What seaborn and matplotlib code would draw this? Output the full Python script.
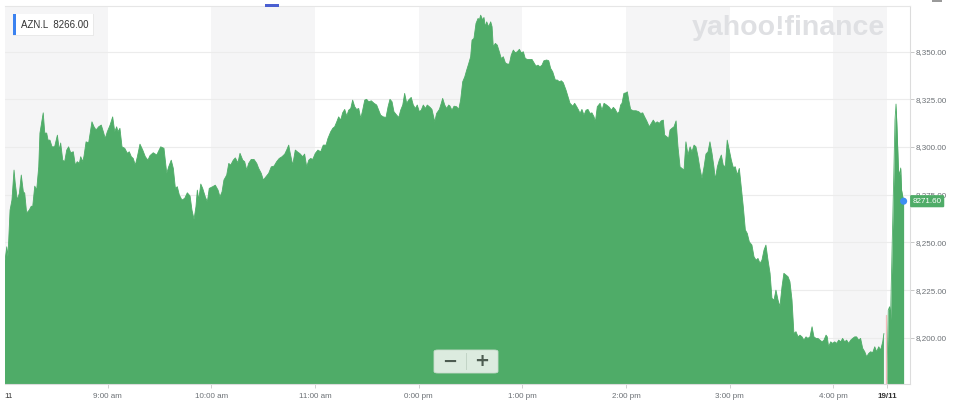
import matplotlib
matplotlib.use("Agg")
import numpy as np
import pandas as pd
import matplotlib.pyplot as plt
import matplotlib.transforms as mtransforms
from matplotlib.patches import Rectangle, FancyBboxPatch
import seaborn as sns

# ---------------- data (minutes after 08:00, price in GBp) ----------------
minutes_day1 = [
    0.4, 1.6, 2.3, 3.5, 4.6, 5.8, 6.5, 7.7, 8.9, 10.0, 11.2, 12.0, 13.1, 14.6, 15.8, 16.6,
    17.8, 18.9, 20.1, 20.8, 22.0, 22.7, 23.6, 24.7, 25.5, 26.6, 27.8, 29.3, 30.9, 32.0, 32.8,
    34.0, 35.1, 36.3, 37.4, 38.6, 40.1, 41.3, 42.4, 43.6, 44.4, 45.6, 46.3, 47.5, 49.0, 50.9,
    52.1, 53.3, 54.8, 56.3, 57.5, 58.6, 59.8, 61.4, 62.9, 64.1, 65.2, 66.0, 67.1, 68.3, 69.9,
    71.4, 72.5, 73.7, 74.8, 76.0, 77.2, 78.7, 80.3, 81.8, 83.3, 84.5, 86.4, 88.4, 90.7, 92.6,
    94.2, 95.3, 96.8, 98.0, 99.2, 100.3, 101.5, 103.0, 104.6, 106.1, 107.7, 108.8, 110.0,
    111.1, 111.9, 112.7, 113.9, 115.0, 116.5, 117.7, 118.8, 120.8, 122.3, 123.9, 125.0,
    126.2, 127.3, 128.9, 130.1, 131.2, 132.7, 133.9, 135.4, 136.6, 138.2, 139.3, 140.5,
    141.6, 143.1, 144.7, 146.3, 147.4, 148.9, 150.1, 151.6, 153.2, 154.7, 156.3, 157.8,
    159.3, 160.9, 162.5, 163.6, 164.8, 165.5, 167.1, 168.6, 169.8, 171.3, 172.9, 174.0,
    175.2, 176.4, 177.5, 178.7, 180.2, 181.7, 183.3, 184.8, 186.4, 187.5, 189.1, 190.3,
    191.4, 192.6, 193.7, 194.9, 196.0, 197.2, 198.4, 199.5, 200.7, 201.8, 203.0, 204.1,
    205.3, 206.5, 207.6, 208.8, 209.9, 211.1, 212.6, 214.2, 215.7, 216.9, 218.0, 219.5,
    221.1, 222.3, 223.4, 224.6, 225.7, 227.3, 228.5, 229.6, 230.8, 231.9, 233.1, 234.2,
    235.7, 236.9, 238.1, 239.2, 240.4, 241.5, 242.7, 243.9, 245.0, 246.6, 247.7, 249.3,
    250.4, 252.0, 253.1, 253.9, 255.1, 256.2, 257.4, 258.1, 259.3, 260.5, 262.0, 263.2,
    264.3, 265.5, 266.7, 267.8, 269.0, 270.1, 270.9, 272.0, 273.2, 274.4, 275.1, 275.9,
    277.1, 277.8, 278.6, 279.4, 280.5, 281.7, 282.5, 283.2, 284.4, 285.5, 286.7, 287.8,
    289.0, 290.2, 291.3, 292.5, 293.6, 294.8, 295.9, 297.1, 298.3, 299.4, 300.6, 301.7,
    302.9, 304.4, 305.6, 306.8, 307.9, 309.1, 310.2, 311.4, 312.5, 314.1, 315.3, 316.4,
    317.6, 319.1, 320.3, 321.4, 322.6, 323.7, 325.3, 326.5, 327.6, 329.2, 330.3, 331.5,
    332.6, 333.4, 334.5, 335.7, 336.9, 338.0, 339.2, 340.3, 341.5, 342.3, 343.4, 345.0,
    346.1, 347.3, 348.8, 350.4, 351.5, 352.7, 353.8, 355.0, 356.1, 356.9, 357.7, 358.8,
    360.0, 360.8, 361.6, 362.7, 364.2, 365.8, 367.4, 368.5, 369.7, 370.8, 372.0, 373.5,
    374.7, 375.8, 377.0, 378.1, 379.3, 380.4, 381.6, 382.4, 383.6, 384.7, 385.5, 386.6,
    387.8, 389.0, 390.1, 391.3, 392.4, 393.6, 394.7, 395.9, 397.1, 398.2, 399.4, 400.5,
    401.7, 402.8, 404.0, 405.2, 406.3, 407.5, 408.6, 409.8, 410.9, 411.7, 412.9, 414.0,
    415.2, 416.3, 417.5, 418.6, 419.8, 421.0, 422.1, 423.3, 424.4, 425.6, 426.7, 427.9,
    429.1, 430.2, 431.4, 432.9, 434.1, 435.3, 436.4, 437.6, 438.7, 439.9, 441.0, 442.2,
    443.4, 444.5, 445.7, 446.8, 448.0, 449.1, 450.3, 451.4, 452.6, 453.8, 454.9, 456.1,
    457.2, 458.4, 459.6, 460.7, 461.9, 463.0, 464.2, 465.3, 466.5, 467.7, 468.8, 470.0,
    471.1, 472.3, 473.5, 474.6, 475.8, 476.5, 477.3, 478.5, 479.6, 480.8, 482.0, 483.1,
    484.3, 485.4, 486.6, 487.7, 488.9, 490.1, 491.2, 492.4, 493.5, 494.7, 495.8, 497.0,
    498.2, 499.3, 500.5, 501.6, 502.8, 504.0, 505.1, 506.3, 507.4, 508.6, 509.3,
]
price_day1 = [
    8239.2, 8247.7, 8242.5, 8266.9, 8272.2, 8287.9, 8281.1, 8272.2, 8275.8, 8285.3, 8276.5,
    8275.8, 8265.4, 8266.9, 8269.0, 8268.7, 8279.5, 8277.4, 8289.6, 8307.3, 8314.1, 8317.9,
    8307.3, 8307.3, 8303.6, 8303.6, 8300.1, 8300.1, 8306.2, 8298.4, 8302.1, 8293.1, 8292.3,
    8298.4, 8300.1, 8297.0, 8297.5, 8290.5, 8292.3, 8291.4, 8294.9, 8292.3, 8295.2, 8302.7,
    8302.2, 8313.2, 8310.6, 8308.9, 8310.6, 8311.5, 8308.0, 8304.5, 8308.0, 8311.5, 8315.8,
    8308.0, 8310.6, 8308.0, 8309.8, 8300.1, 8299.3, 8296.7, 8297.5, 8294.9, 8294.0, 8290.5,
    8294.9, 8301.5, 8298.4, 8294.9, 8293.1, 8295.5, 8297.0, 8295.8, 8300.1, 8299.3, 8286.2,
    8289.6, 8293.1, 8288.8, 8278.3, 8279.2, 8274.8, 8272.2, 8273.1, 8276.0, 8274.3, 8266.9,
    8262.1, 8268.7, 8277.4, 8272.2, 8280.6, 8278.3, 8273.9, 8271.3, 8278.3, 8279.2, 8280.0,
    8277.4, 8273.9, 8276.5, 8282.7, 8285.3, 8291.4, 8290.5, 8293.1, 8294.3, 8291.7, 8296.7,
    8293.1, 8292.3, 8287.9, 8291.4, 8293.5, 8293.5, 8291.4, 8288.8, 8286.2, 8282.7, 8284.4,
    8286.2, 8289.6, 8290.0, 8292.3, 8294.0, 8294.9, 8296.3, 8298.4, 8301.0, 8297.5, 8290.5,
    8298.4, 8297.5, 8296.5, 8294.9, 8296.3, 8289.6, 8293.1, 8294.0, 8293.5, 8296.7, 8298.4,
    8297.5, 8301.0, 8301.0, 8304.5, 8308.0, 8309.8, 8310.6, 8313.2, 8315.8, 8314.1, 8317.9,
    8319.7, 8316.2, 8319.3, 8320.2, 8324.6, 8321.1, 8319.7, 8320.2, 8315.0, 8319.3, 8324.6,
    8325.0, 8323.7, 8324.2, 8322.9, 8322.0, 8319.3, 8316.7, 8315.8, 8315.5, 8321.1, 8325.0,
    8323.7, 8318.5, 8316.7, 8315.5, 8319.3, 8322.0, 8328.1, 8322.9, 8324.6, 8326.0, 8322.0,
    8320.2, 8322.0, 8318.5, 8319.3, 8322.0, 8320.2, 8322.0, 8320.8, 8319.7, 8313.2, 8317.6,
    8319.7, 8322.9, 8325.5, 8322.0, 8320.2, 8322.0, 8321.5, 8319.3, 8321.4, 8321.1, 8319.7,
    8324.6, 8334.2, 8336.8, 8340.3, 8343.8, 8347.3, 8356.0, 8356.9, 8364.8, 8367.4, 8366.5,
    8369.1, 8366.5, 8367.9, 8363.0, 8365.6, 8363.0, 8365.6, 8363.0, 8352.5, 8354.3, 8353.4,
    8349.9, 8346.4, 8347.3, 8344.1, 8343.5, 8343.5, 8348.2, 8350.8, 8349.4, 8349.9, 8351.2,
    8349.4, 8349.9, 8346.4, 8345.9, 8345.9, 8345.9, 8344.1, 8342.4, 8342.9, 8342.0, 8342.9,
    8345.2, 8345.6, 8345.2, 8341.2, 8339.4, 8335.1, 8335.1, 8334.2, 8334.7, 8333.7, 8329.8,
    8326.3, 8322.9, 8321.4, 8322.9, 8321.1, 8319.3, 8317.6, 8319.7, 8316.7, 8319.3, 8319.7,
    8317.6, 8317.9, 8315.8, 8313.2, 8321.1, 8322.9, 8319.3, 8322.9, 8322.0, 8320.8, 8319.3,
    8320.8, 8319.7, 8317.6, 8318.5, 8322.0, 8322.9, 8328.1, 8328.4, 8328.9, 8324.6, 8319.7,
    8319.0, 8319.0, 8318.5, 8317.6, 8317.9, 8315.8, 8313.7, 8310.6, 8312.4, 8314.1, 8312.4,
    8313.2, 8312.4, 8313.7, 8314.1, 8306.2, 8305.4, 8304.5, 8308.9, 8309.8, 8310.6, 8313.7,
    8300.1, 8289.6, 8288.8, 8287.9, 8302.7, 8295.8, 8300.1, 8297.5, 8301.0, 8300.1, 8294.9,
    8288.8, 8283.6, 8289.6, 8296.3, 8297.5, 8302.7, 8296.7, 8289.6, 8283.0, 8289.6, 8293.1,
    8295.8, 8290.5, 8289.6, 8303.6, 8298.4, 8293.1, 8289.3, 8289.6, 8285.3, 8288.8, 8279.2,
    8268.7, 8256.5, 8254.7, 8250.3, 8248.6, 8242.5, 8240.7, 8241.6, 8239.0, 8240.7, 8246.0,
    8248.6, 8240.7, 8233.8, 8220.7, 8219.8, 8225.0, 8219.8, 8216.3, 8226.7, 8233.8, 8232.9,
    8232.0, 8229.4, 8219.8, 8202.3, 8203.2, 8200.5, 8201.4, 8200.5, 8198.8, 8200.5, 8199.7,
    8200.5, 8205.8, 8200.5, 8199.7, 8199.7, 8198.8, 8197.9, 8198.8, 8201.4, 8200.5, 8195.3,
    8197.9, 8197.1, 8197.9, 8197.1, 8198.8, 8197.9, 8199.7, 8197.9, 8198.8, 8197.1, 8198.8,
    8199.7, 8200.5, 8200.5, 8198.8, 8199.7, 8194.5, 8192.7, 8190.1, 8191.8, 8192.7, 8192.2,
    8195.3, 8192.7, 8195.3, 8193.6, 8197.9, 8202.3,
]
minutes_day2 = [511.0, 511.8, 512.6, 513.1, 514.0, 515.2, 515.7, 516.3, 516.9, 517.7,
                518.3, 519.0, 519.5, 520.7]
price_day2 = [8178.0, 8214.5, 8216.3, 8209.3, 8246.0, 8293.1, 8314.1, 8322.5, 8308.9,
              8287.9, 8285.3, 8289.0, 8277.4, 8271.6]

symbol = "AZN.L"
legend_price = 8266.00
last_price = 8271.60

x_ticks = [0.4, 60, 120, 180, 240, 300, 360, 420, 480, 511.3]
x_labels = ["11", "9:00 am", "10:00 am", "11:00 am", "0:00 pm", "1:00 pm",
            "2:00 pm", "3:00 pm", "4:00 pm", "19/11"]
y_ticks = [8200, 8225, 8250, 8275, 8300, 8325, 8350]
hour_bands = [(0.4, 60), (120, 180), (240, 300), (360, 420), (480, 511.3)]
x_range = (0.4, 524.1)
y_range = (8175.8, 8373.9)
gap_minute = 510.3
gap_top = 8212.0

# ---------------- styling ----------------
GREEN = "#4fac68"
BAND = "#f5f5f6"
GRID = "#ececec"
SPINE = "#dcdcdc"
LABEL = "#6b7075"

sns.set_theme(style="white")
plt.rcParams["font.family"] = ["Liberation Sans", "DejaVu Sans"]

fig = plt.figure(figsize=(9.6, 4.18), dpi=100)
fig.patch.set_facecolor("white")
W, H = 960.0, 418.0
ax = fig.add_axes([4.7 / W, 34 / H, (909.5 - 4.7) / W, (384 - 6) / H])
ax.set_facecolor("white")

df = pd.DataFrame({
    "minute": minutes_day1 + minutes_day2,
    "price": price_day1 + price_day2,
    "session": ["d1"] * len(minutes_day1) + ["d2"] * len(minutes_day2),
})

for a, b in hour_bands:
    ax.axvspan(a, b, color=BAND, lw=0, zorder=0)
for t in y_ticks:
    ax.axhline(t, color=GRID, lw=0.8, zorder=0.5)

for _, g in df.groupby("session"):
    ax.fill_between(g["minute"], g["price"], y_range[0] - 50, color=GREEN, lw=0, zorder=2)
sns.lineplot(data=df, x="minute", y="price", units="session", estimator=None,
             color=GREEN, lw=0.6, ax=ax, zorder=2.1, legend=False)

ax.plot([gap_minute, gap_minute], [y_range[0], gap_top], color="#f2b9b9", lw=0.9, zorder=2.2)

ax.scatter([df["minute"].iloc[-1]], [df["price"].iloc[-1]], s=26, color="#3d8ef2",
           zorder=6, clip_on=False, edgecolor="none")

ax.set_xlim(*x_range)
ax.set_ylim(*y_range)
ax.set_xlabel("")
ax.set_ylabel("")

ax.yaxis.tick_right()
ax.set_yticks(y_ticks)
ax.set_yticklabels([f"{v:,.2f}" for v in y_ticks])
ax.set_xticks(x_ticks)
ax.set_xticklabels(x_labels)
ax.tick_params(axis="y", which="both", right=True, left=False, length=3, width=0.7,
               color="#c8c8c8", labelsize=5.8, labelcolor=LABEL, pad=1.5)
ax.tick_params(axis="x", which="both", bottom=True, length=3, width=0.7,
               color="#d0d0d0", labelsize=5.8, labelcolor=LABEL, pad=3.5)
xl = ax.get_xticklabels()
xl[0].set_ha("left")
xl[0].set_color("#3a3a3a")
xl[-1].set_fontweight("bold")
xl[-1].set_color("#333333")
ax.xaxis.get_major_ticks()[0].tick1line.set_visible(False)

for side in ["left"]:
    ax.spines[side].set_visible(False)
ax.spines["top"].set_color("#e6e6e6")
ax.spines["top"].set_linewidth(0.8)
ax.spines["right"].set_color(SPINE)
ax.spines["right"].set_linewidth(0.8)
ax.spines["bottom"].set_color(SPINE)
ax.spines["bottom"].set_linewidth(0.8)
ax.grid(False)

# last price tag on the right axis
blend = mtransforms.blended_transform_factory(ax.transAxes, ax.transData)
ax.text(1.0035, last_price, f"{last_price:.2f}", transform=blend, ha="left", va="center",
        fontsize=5.8, color="white", zorder=10, clip_on=False,
        bbox=dict(boxstyle="round,pad=0.32,rounding_size=0.15", fc=GREEN, ec="none"))

# watermark
fig.text(788 / W, 1 - 28 / H, "yahoo!finance", fontsize=20.5, fontweight="bold",
         color="#dfe0e3", ha="center", va="center", zorder=1)

# legend chip (top-left)
fig.patches.append(Rectangle((12.5 / W, 1 - 36 / H), 81.5 / W, 22.5 / H,
                             transform=fig.transFigure, fc="#e9e9e9", ec="none", zorder=3))
fig.patches.append(Rectangle((13 / W, 1 - 35 / H), 80 / W, 21 / H,
                             transform=fig.transFigure, fc="white", ec="none", zorder=4))
fig.patches.append(Rectangle((13 / W, 1 - 35 / H), 3 / W, 21 / H,
                             transform=fig.transFigure, fc="#3b82f0", ec="none", zorder=5))
fig.text(21 / W, 1 - 25 / H, f"{symbol}  {legend_price:.2f}", fontsize=7, color="#333333",
         ha="left", va="center", zorder=6)

# small tab indicator at the top
fig.patches.append(Rectangle((265 / W, 1 - 6.5 / H), 14 / W, 2.5 / H,
                             transform=fig.transFigure, fc="#4a5fd1", ec="none", zorder=5))
fig.patches.append(Rectangle((932 / W, 1 - 2 / H), 10 / W, 2 / H,
                             transform=fig.transFigure, fc="#9a9a9a", ec="none", zorder=5))

# zoom buttons
fig.patches.append(FancyBboxPatch((434 / W, 1 - 373 / H), 64 / W, 23 / H,
                                  boxstyle="round,pad=0,rounding_size=0.004",
                                  transform=fig.transFigure, fc="#dcebdf", ec="#c9dccd",
                                  lw=0.6, zorder=7))
fig.patches.append(Rectangle((466 / W, 1 - 370 / H), 0.8 / W, 17 / H,
                             transform=fig.transFigure, fc="#c2d4c6", ec="none", zorder=8))
fig.text(450 / W, 1 - 361.5 / H, "\u2212", fontsize=13, fontweight="bold", color="#4d5c51",
         ha="center", va="center", zorder=9, family=["DejaVu Sans"])
fig.text(482 / W, 1 - 361.5 / H, "+", fontsize=13, fontweight="bold", color="#4d5c51",
         ha="center", va="center", zorder=9, family=["DejaVu Sans"])

fig.savefig("out.png", dpi=100, facecolor="white")
